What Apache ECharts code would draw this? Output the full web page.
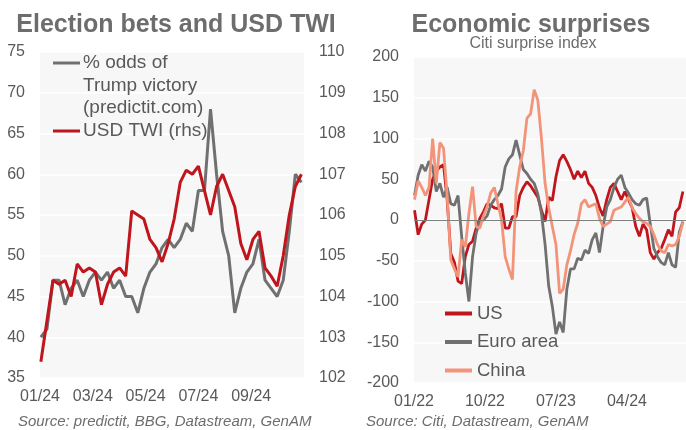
<!DOCTYPE html>
<html>
<head>
<meta charset="utf-8">
<script src="https://cdn.jsdelivr.net/npm/echarts@6/dist/echarts.min.js"></script>
<style>
  html, body { margin: 0; padding: 0; background: #fff; }
  #chart { width: 686px; height: 430px; }
</style>
</head>
<body>
<div id="chart"></div>
<script>
// ---- left panel: election bets vs USD TWI (weekly, 2024) ----
const betDates = [
  '2024-01-02', '2024-01-09', '2024-01-16', '2024-01-23', '2024-01-30',
  '2024-02-06', '2024-02-13', '2024-02-20', '2024-02-27',
  '2024-03-05', '2024-03-12', '2024-03-19', '2024-03-26',
  '2024-04-02', '2024-04-09', '2024-04-16', '2024-04-23', '2024-04-30',
  '2024-05-07', '2024-05-14', '2024-05-21', '2024-05-28',
  '2024-06-04', '2024-06-11', '2024-06-18', '2024-06-25',
  '2024-07-02', '2024-07-09', '2024-07-16', '2024-07-23', '2024-07-30',
  '2024-08-06', '2024-08-13', '2024-08-20', '2024-08-27',
  '2024-09-03', '2024-09-10', '2024-09-17', '2024-09-24',
  '2024-10-01', '2024-10-08', '2024-10-15', '2024-10-22', '2024-10-29'
];
// % odds of Trump victory (lhs)
const trumpOdds = [
  40, 41, 47, 47, 44, 46, 47, 45, 47, 48, 47, 48, 46, 47, 45,
  45, 43, 46, 48, 49, 51, 52, 51, 52, 54, 53, 58, 58, 68, 60,
  53, 50, 43, 46, 48, 49, 52, 47, 46, 45, 47, 53, 60, 59
];
// USD TWI (rhs)
const usdTwi = [
  102.4, 103.4, 104.4, 104.3, 104.4, 104.0, 104.8, 104.6, 104.7, 104.6,
  103.8, 104.3, 104.6, 104.7, 104.5, 106.1, 106.0, 105.9, 105.4, 105.2,
  104.85, 105.3, 105.9, 106.8, 107.1, 107.0, 107.2, 106.6, 106.0, 106.7,
  107.0, 106.6, 106.2, 105.3, 104.9, 105.4, 105.6, 104.7, 104.5, 104.25,
  105.0, 106.0, 106.7, 107.0
];
const leftXLabels = ['01/24', '03/24', '05/24', '07/24', '09/24'];

// ---- right panel: Citi economic surprise index (fortnightly) ----
const cesiDates = [
  '2022-01-03', '2022-01-17', '2022-01-31', '2022-02-14', '2022-02-28', '2022-03-14',
  '2022-03-28', '2022-04-11', '2022-04-25', '2022-05-09', '2022-05-23', '2022-06-06',
  '2022-06-20', '2022-07-04', '2022-07-18', '2022-08-01', '2022-08-15', '2022-08-29',
  '2022-09-12', '2022-09-26', '2022-10-10', '2022-10-24', '2022-11-07', '2022-11-21',
  '2022-12-05', '2022-12-19', '2023-01-02', '2023-01-16', '2023-01-30', '2023-02-13',
  '2023-02-27', '2023-03-13', '2023-03-27', '2023-04-10', '2023-04-24', '2023-05-08',
  '2023-05-22', '2023-06-05', '2023-06-19', '2023-07-03', '2023-07-17', '2023-07-31',
  '2023-08-14', '2023-08-28', '2023-09-11', '2023-09-25', '2023-10-09', '2023-10-23',
  '2023-11-06', '2023-11-20', '2023-12-04', '2023-12-18', '2024-01-01', '2024-01-15',
  '2024-01-29', '2024-02-12', '2024-02-26', '2024-03-11', '2024-03-25', '2024-04-08',
  '2024-04-22', '2024-05-06', '2024-05-20', '2024-06-03', '2024-06-17', '2024-07-01',
  '2024-07-15', '2024-07-29', '2024-08-12', '2024-08-26', '2024-09-09', '2024-09-23',
  '2024-10-07', '2024-10-21', '2024-11-04'
];
const usSurprise = [
  12, -18, -5, 0, 25, 50, 60, 65, 68, 25, -41, -52, -75, -78, -45, -30, -26, -10, 2, 10,
  20, 18, 15, 14, 20, -10,
  -10, 4, 4, 30, 40, 47, 42, 35, 28, 12, -2, 28, 24, 53, 73, 80, 72, 62, 50, 60,
  52, 60, 45, 40, 30, 15,
  5, 25, 40, 45, 35, 25, 35, 25, 15, -8, -20, -5, -12, -40, -48, -40, -35, -24, -12, -20,
  10, 15, 35
];
const euroSurprise = [
  30, 55, 68, 60, 72, 65, 35, 45, 28, 40, 20, 18, 30, -20, -65, -100, -45, -16, -2, 0,
  5, 18, 25, 30, 38, 65,
  75, 80, 98, 80, 62, 57, 50, 45, 32, 8, -30, -81, -106, -140, -125, -138, -85, -60, -60, -47,
  -49, -37, -41, -24, -16, -40,
  -8, 16, 25, 40, 50, 55, 40, 33, 25, 20, 18, 25, 27, -5, -35, -45, -52, -55, -40, -55,
  -58, -15, -2
];
const chinaSurprise = [
  25, 48, 40, 30, 40, 100, 45, 95, 88, 30, -49, -60, -70, -24, -33, 8, 41, -8, -10, 5,
  16, 33, 40, 20, 0, -45,
  -60, -73, 35, 65, 85, 125, 130, 160, 147, 100, 45, 15, -8, -30, -90, -85, -55, -38, -18, -4,
  20, 25, 16, 18, 20, 2,
  -8, -5, -2, 12, 14, 16, 22, 28, 15, 8, 2, -2, -4, -8, -18, -30, -38, -40, -30, -32,
  -30, -20, -3
];
const rightXLabels = ['01/22', '10/22', '07/23', '04/24'];

const FONT = 'Liberation Sans, Arial, sans-serif';
const TXT = '#595959';
const GREY = '#707070';
const RED = '#C0151C';
const SALMON = '#F3937A';

// days since a base date, used as x value
function dayOf(base, d) {
  return Math.round((Date.parse(d) - Date.parse(base)) / 864e5);
}
function pairs(base, dates, vals) {
  return dates.map((d, i) => [dayOf(base, d), vals[i]]);
}

const chart = echarts.init(document.getElementById('chart'), null, { renderer: 'canvas' });

const lineSeries = (name, xIdx, yIdx, base, dates, vals, color, extra) => Object.assign({
  name: name,
  type: 'line',
  xAxisIndex: xIdx,
  yAxisIndex: yIdx,
  data: pairs(base, dates, vals),
  symbol: 'none',
  lineStyle: { width: 3, color: color },
  itemStyle: { color: color }
}, extra || {});

chart.setOption({
  animation: false,
  backgroundColor: '#ffffff',
  textStyle: { fontFamily: FONT },
  title: [
    { text: 'Election bets and USD TWI', left: 176, top: 13, padding: 0, textAlign: 'center',
      textStyle: { fontSize: 25, fontWeight: 'bold', color: '#6d6d6d', fontFamily: FONT } },
    { text: 'Economic surprises', left: 531, top: 13, padding: 0, textAlign: 'center',
      textStyle: { fontSize: 25, fontWeight: 'bold', color: '#6d6d6d', fontFamily: FONT } },
    { text: 'Citi surprise index', left: 533, top: 36, padding: 0, textAlign: 'center',
      textStyle: { fontSize: 16, fontWeight: 'normal', color: '#6d6d6d', fontFamily: FONT } },
    { text: 'Source: predictit, BBG, Datastream, GenAM', left: 18, top: 414, padding: 0,
      textStyle: { fontSize: 15, fontStyle: 'italic', fontWeight: 'normal', color: '#6d6d6d', fontFamily: FONT } },
    { text: 'Source: Citi, Datastream, GenAM', left: 366, top: 414, padding: 0,
      textStyle: { fontSize: 15, fontStyle: 'italic', fontWeight: 'normal', color: '#6d6d6d', fontFamily: FONT } }
  ],
  legend: {
    data: ['US', 'Euro area', 'China'],
    orient: 'vertical',
    left: 445,
    top: 304,
    padding: 0,
    icon: 'rect',
    itemWidth: 27,
    itemHeight: 4,
    itemGap: 9.5,
    selectedMode: false,
    textStyle: { fontSize: 18.5, color: TXT, fontFamily: FONT }
  },
  grid: [
    { left: 40, width: 264, top: 52, height: 326, show: true, backgroundColor: '#f7f7f7', borderWidth: 0 },
    { left: 414, width: 272, top: 57, height: 326, show: true, backgroundColor: '#f7f7f7', borderWidth: 0 }
  ],
  xAxis: [
    {
      type: 'value', gridIndex: 0, min: 0, max: 305, interval: 61,
      axisLine: { show: false }, axisTick: { show: false }, splitLine: { show: false },
      axisLabel: {
        fontSize: 16, color: TXT, margin: 11, showMaxLabel: false,
        formatter: v => leftXLabels[Math.round(v / 61)] || ''
      }
    },
    {
      type: 'value', gridIndex: 1, min: 0, max: 1050, interval: 274,
      axisLine: { show: false }, axisTick: { show: false }, splitLine: { show: false },
      axisLabel: {
        fontSize: 16, color: TXT, margin: 11, showMaxLabel: false,
        formatter: v => rightXLabels[Math.round(v / 274)] || ''
      }
    }
  ],
  yAxis: [
    {
      type: 'value', gridIndex: 0, position: 'left', min: 35, max: 75, interval: 5,
      axisLine: { show: false }, axisTick: { show: false },
      splitLine: { lineStyle: { color: '#ffffff', width: 1.5 } },
      axisLabel: { fontSize: 16, color: TXT, margin: 15 }
    },
    {
      type: 'value', gridIndex: 0, position: 'right', min: 102, max: 110, interval: 1,
      axisLine: { show: false }, axisTick: { show: false }, splitLine: { show: false },
      axisLabel: { fontSize: 16, color: TXT, margin: 15 }
    },
    {
      type: 'value', gridIndex: 1, position: 'left', min: -200, max: 200, interval: 50,
      axisLine: { show: false }, axisTick: { show: false },
      splitLine: { lineStyle: { color: '#ffffff', width: 1.5 } },
      axisLabel: { fontSize: 16, color: TXT, margin: 15 }
    }
  ],
  series: [
    lineSeries('% odds of Trump victory (predictit.com)', 0, 0, '2024-01-01', betDates, trumpOdds, GREY),
    lineSeries('USD TWI (rhs)', 0, 1, '2024-01-01', betDates, usdTwi, RED),
    lineSeries('US', 1, 2, '2022-01-01', cesiDates, usSurprise, RED, {
      lineStyle: { width: 2.8, color: RED },
      markLine: {
        silent: true, symbol: 'none', label: { show: false },
        lineStyle: { color: '#7f7f7f', width: 1, type: 'solid' },
        data: [{ yAxis: 0 }]
      }
    }),
    lineSeries('Euro area', 1, 2, '2022-01-01', cesiDates, euroSurprise, GREY, { lineStyle: { width: 2.8, color: GREY } }),
    lineSeries('China', 1, 2, '2022-01-01', cesiDates, chinaSurprise, SALMON, { lineStyle: { width: 2.8, color: SALMON } })
  ],
  // left panel legend: multi-line label with the swatch on the first line
  graphic: {
    elements: [
      { type: 'line', z: 100, shape: { x1: 53, y1: 63, x2: 80, y2: 63 }, style: { stroke: GREY, lineWidth: 3 } },
      { type: 'text', z: 100, x: 83, y: 63, style: { text: '% odds of', font: '19px ' + FONT, fill: TXT, textVerticalAlign: 'middle' } },
      { type: 'text', z: 100, x: 83, y: 86, style: { text: 'Trump victory', font: '19px ' + FONT, fill: TXT, textVerticalAlign: 'middle' } },
      { type: 'text', z: 100, x: 83, y: 108, style: { text: '(predictit.com)', font: '19px ' + FONT, fill: TXT, textVerticalAlign: 'middle' } },
      { type: 'line', z: 100, shape: { x1: 53, y1: 131, x2: 80, y2: 131 }, style: { stroke: RED, lineWidth: 3 } },
      { type: 'text', z: 100, x: 83, y: 131, style: { text: 'USD TWI (rhs)', font: '19px ' + FONT, fill: TXT, textVerticalAlign: 'middle' } }
    ]
  }
});
</script>
</body>
</html>
